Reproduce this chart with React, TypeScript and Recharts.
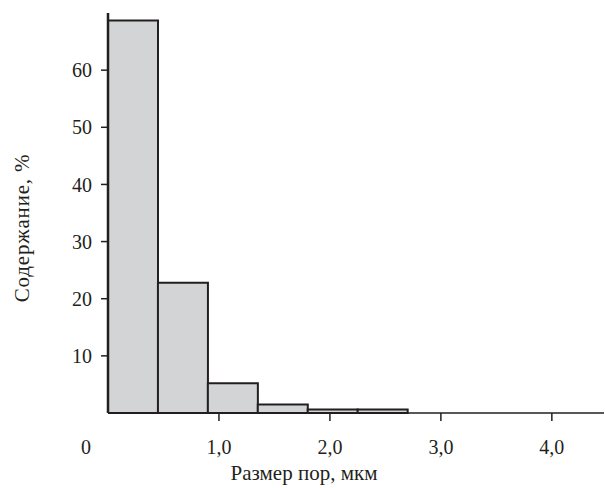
import { ComposedChart, Bar, XAxis, YAxis, Label } from 'recharts';

// Pore size histogram: bins of 0.45 µm starting at 0
const binStart = [0, 0.45, 0.9, 1.35, 1.8, 2.25];
const binWidth = 0.45;
const content = [68.7, 22.8, 5.2, 1.5, 0.6, 0.6];

const xTicks = [0, 1, 2, 3, 4];
const yTicks = [10, 20, 30, 40, 50, 60];

const data = binStart.map((s, i) => ({ mid: s + binWidth / 2, value: content[i] }));

const ink = '#231f20';
const font = '"Liberation Serif", "DejaVu Serif", serif';
const fs = 20;
const titleFs = 21;

function XTick(props: any) {
  const { x, y, payload } = props;
  const v = payload.value as number;
  const label = v === 0 ? '0' : v.toFixed(1).replace('.', ',');
  // y here is the label centre; the axis line sits 34px above
  return (
    <g>
      {v !== 0 && <line x1={x} x2={x} y1={y - 34} y2={y - 26} stroke={ink} strokeWidth={1.5} />}
      <text x={v === 0 ? x - 22 : x} y={y} dy="0.35em" textAnchor="middle" fill={ink}
        fontFamily={font} fontSize={fs}>
        {label}
      </text>
    </g>
  );
}

function YLabel(props: any) {
  const { viewBox } = props;
  const cx = viewBox.x + viewBox.width - 86;
  const cy = viewBox.y + viewBox.height / 2 + 15;
  return (
    <text x={cx} y={cy} transform={`rotate(-90, ${cx}, ${cy})`} textAnchor="middle" dy="0.35em"
      fill={ink} fontFamily={font} fontSize={titleFs} letterSpacing={0.8}>
      Содержание, %
    </text>
  );
}

function XLabel(props: any) {
  const { viewBox } = props;
  const cx = viewBox.x + 196;
  const cy = viewBox.y + 60;
  return (
    <text x={cx} y={cy} textAnchor="middle" dy="0.35em" fill={ink} fontFamily={font} fontSize={titleFs}>
      Размер пор, мкм
    </text>
  );
}

export default function App() {
  return (
    <div style={{ position: 'absolute', left: 0, top: 0, width: 605, height: 488, background: '#fff' }}>
      <ComposedChart width={605} height={488} data={data}
        margin={{ top: 13, right: 1, left: 48, bottom: 0 }}
        barCategoryGap={0} barGap={0}>
        <XAxis
          type="number"
          dataKey="mid"
          domain={[0, 4.47]}
          ticks={xTicks}
          allowDataOverflow
          height={75}
          axisLine={{ stroke: ink, strokeWidth: 1.5 }}
          tickLine={false}
          tickSize={8}
          tickMargin={26}
          tick={<XTick />}
          interval={0}
        >
          <Label content={<XLabel />} />
        </XAxis>
        <YAxis
          type="number"
          domain={[0, 70]}
          ticks={yTicks}
          width={60}
          axisLine={{ stroke: ink, strokeWidth: 2.5 }}
          tickLine={{ stroke: ink, strokeWidth: 1.5 }}
          tickSize={7}
          tickMargin={9}
          tick={{ fill: ink, fontFamily: font, fontSize: fs }}
          interval={0}
        >
          <Label content={<YLabel />} />
        </YAxis>
        <Bar dataKey="value" fill="#d3d4d6" stroke={ink} strokeWidth={2}
          isAnimationActive={false} />
      </ComposedChart>
    </div>
  );
}
